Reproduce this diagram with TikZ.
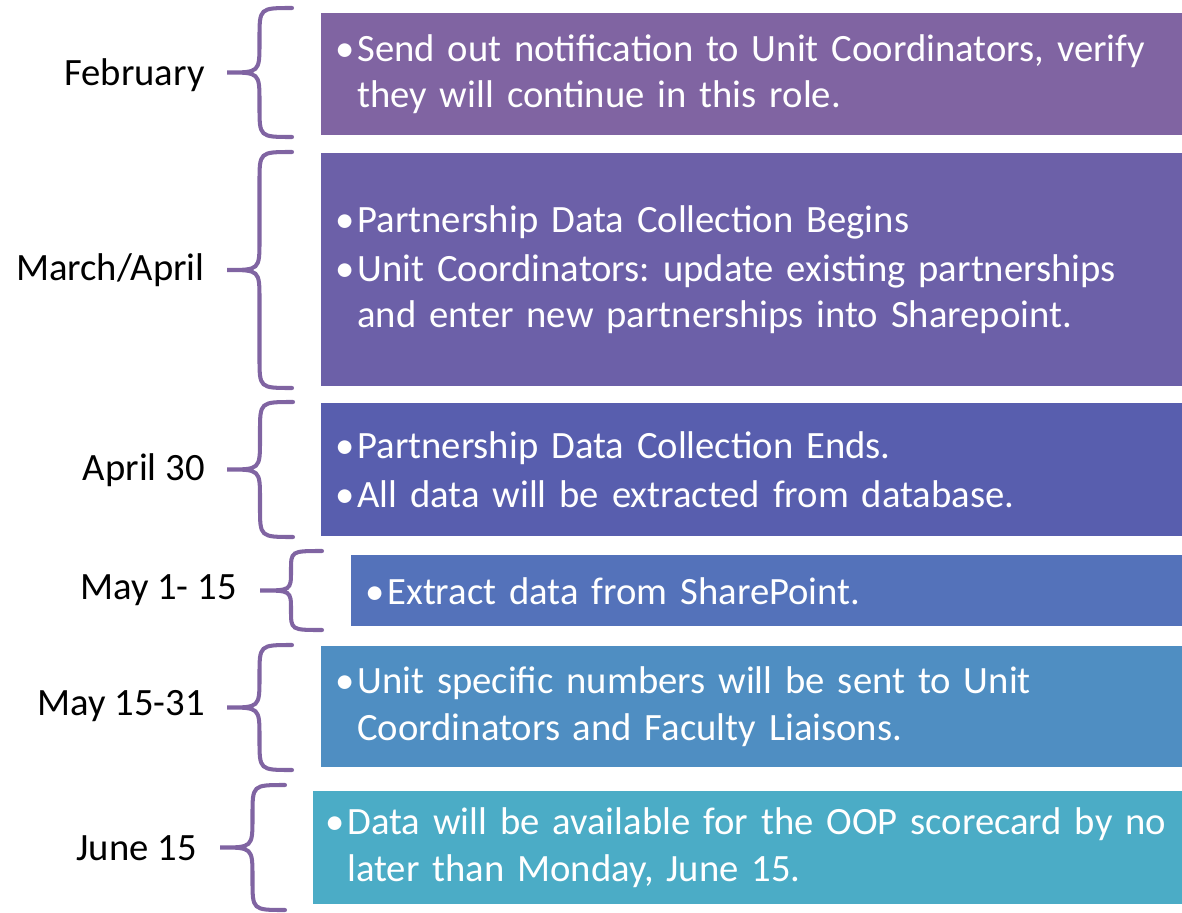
\documentclass[tikz,border=0pt]{standalone}
\usepackage{fontspec}
\setmainfont{Carlito}
\usepackage{tikz}
\usetikzlibrary{positioning}
\usepackage{xcolor}
\frenchspacing
\definecolor{bracepurple}{HTML}{8064A2}
\definecolor{boxa}{HTML}{8064A2}
\definecolor{boxb}{HTML}{6C60A8}
\definecolor{boxc}{HTML}{585EAE}
\definecolor{boxd}{HTML}{5472BA}
\definecolor{boxe}{HTML}{4F8EC2}
\definecolor{boxf}{HTML}{4BACC6}
\tikzset{
    % Step boxes
    tbox/.style={rectangle, fill=#1, anchor=north west, inner xsep=0.28cm,
                inner ysep=0pt, align=left, text=white,
                font=\fontsize{22}{26.5}\selectfont},
    % Dates
    tlabel/.style={anchor=east, inner sep=0pt, text=black,
                font=\fontsize{22}{26.5}\selectfont},
    % Brackets
    tbrace/.style={draw=bracepurple, line width=2.3pt, line cap=round},
}
\newcommand{\bitem}{\makebox[0.44cm][l]{\textbullet}}
\newcommand{\bcont}{\hspace*{0.44cm}}
% tip x, right x, top y, bottom y
\newcommand{\timebrace}[4]{%
    \pgfmathsetmacro{\bmid}{(#3+#4)/2}%
    \pgfmathsetmacro{\bvx}{(#1+#2)/2}%
    \pgfmathsetmacro{\bc}{min(30,(#4-#3)/4)}%
    \draw[tbrace] (#2,#3) .. controls (\bvx,#3) .. (\bvx,#3+\bc)
        -- (\bvx,\bmid-\bc) .. controls (\bvx,\bmid) .. (#1,\bmid)
        .. controls (\bvx,\bmid) .. (\bvx,\bmid+\bc)
        -- (\bvx,#4-\bc) .. controls (\bvx,#4) .. (#2,#4);
}

\begin{document}
\begin{tikzpicture}[x=0.02cm, y=-0.02cm]
\useasboundingbox (0,0) rectangle (1182,912);

% Boxes
\node[tbox=boxa, text width=16.66cm, minimum height=2.44cm] (feb) at (321,13)
    {\bitem Send out notification to Unit Coordinators, verify\\
     \bcont they will continue in this role.};
\node[tbox=boxb, text width=16.66cm, minimum height=4.66cm] (mar) at (321,153)
    {\bitem Partnership Data Collection Begins\\[1pt]
     \bitem Unit Coordinators: update existing partnerships\\
     \bcont and enter new partnerships into Sharepoint.};
\node[tbox=boxc, text width=16.66cm, minimum height=2.66cm] (apr) at (321,403)
    {\bitem Partnership Data Collection Ends.\\[1pt]
     \bitem All data will be extracted from database.};
\node[tbox=boxd, text width=16.06cm, minimum height=1.42cm] (may) at (351,555)
    {\bitem Extract data from SharePoint.};
\node[tbox=boxe, text width=16.66cm, minimum height=2.42cm] (mayb) at (321,646)
    {\bitem Unit specific numbers will be sent to Unit\\
     \bcont Coordinators and Faculty Liaisons.};
\node[tbox=boxf, text width=16.9cm, inner xsep=0.24cm, minimum height=2.26cm] (jun) at (313,791)
    {\bitem Data will be available for the OOP scorecard by no\\
     \bcont later than Monday, June 15.};

% Brackets
\timebrace{227}{292}{8}{137}
\timebrace{227}{292}{152}{388}
\timebrace{227}{293}{402}{537}
\timebrace{260}{322}{551}{630}
\timebrace{227}{292}{645}{770}
\timebrace{220}{285}{785}{910}

% Dates
\node[tlabel] (lfeb)  at (205,75)  {February};
\node[tlabel] (lmar)  at (205,270) {March/April};
\node[tlabel] (lapr)  at (205,470) {April 30};
\node[tlabel] (lmay)  at (237,590) {May 1- 15};
\node[tlabel] (lmayb) at (205,706) {May 15-31};
\node[tlabel] (ljun)  at (197,848) {June 15};
\end{tikzpicture}
\end{document}
